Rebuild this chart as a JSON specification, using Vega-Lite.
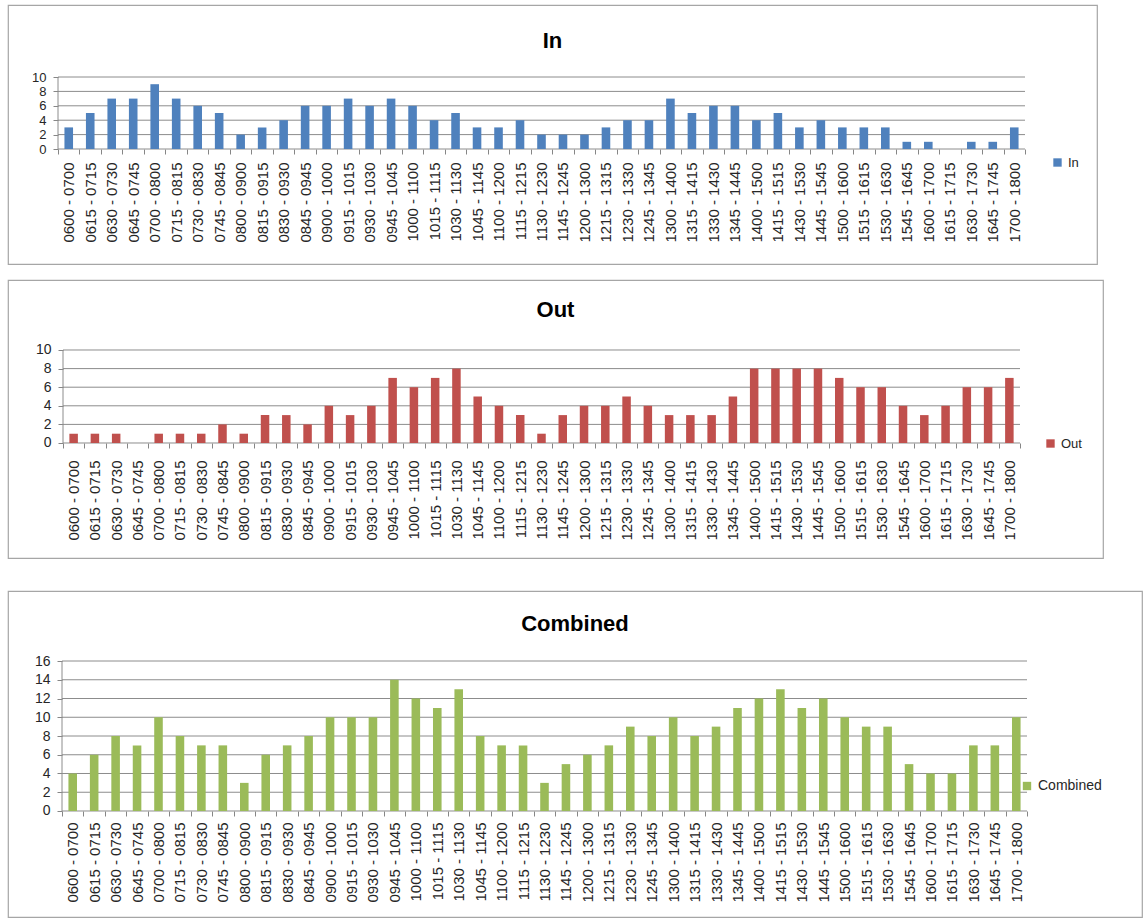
{
  "$schema": "https://vega.github.io/schema/vega-lite/v6.json",
  "background": "white",
  "padding": {"left": 0, "top": 4, "right": 0, "bottom": 3},
  "autosize": {"type": "pad"},
  "config": {
    "font": "Liberation Sans",
    "view": {"stroke": "#a6a6a6", "strokeWidth": 1.2},
    "axis": {"labelColor": "#262626", "tickColor": "#868686", "domain": false, "grid": false}
  },
  "datasets": {
    "slots": [
      {"slot":"0600 - 0700","In":3,"Out":1,"Combined":4},
      {"slot":"0615 - 0715","In":5,"Out":1,"Combined":6},
      {"slot":"0630 - 0730","In":7,"Out":1,"Combined":8},
      {"slot":"0645 - 0745","In":7,"Out":0,"Combined":7},
      {"slot":"0700 - 0800","In":9,"Out":1,"Combined":10},
      {"slot":"0715 - 0815","In":7,"Out":1,"Combined":8},
      {"slot":"0730 - 0830","In":6,"Out":1,"Combined":7},
      {"slot":"0745 - 0845","In":5,"Out":2,"Combined":7},
      {"slot":"0800 - 0900","In":2,"Out":1,"Combined":3},
      {"slot":"0815 - 0915","In":3,"Out":3,"Combined":6},
      {"slot":"0830 - 0930","In":4,"Out":3,"Combined":7},
      {"slot":"0845 - 0945","In":6,"Out":2,"Combined":8},
      {"slot":"0900 - 1000","In":6,"Out":4,"Combined":10},
      {"slot":"0915 - 1015","In":7,"Out":3,"Combined":10},
      {"slot":"0930 - 1030","In":6,"Out":4,"Combined":10},
      {"slot":"0945 - 1045","In":7,"Out":7,"Combined":14},
      {"slot":"1000 - 1100","In":6,"Out":6,"Combined":12},
      {"slot":"1015 - 1115","In":4,"Out":7,"Combined":11},
      {"slot":"1030 - 1130","In":5,"Out":8,"Combined":13},
      {"slot":"1045 - 1145","In":3,"Out":5,"Combined":8},
      {"slot":"1100 - 1200","In":3,"Out":4,"Combined":7},
      {"slot":"1115 - 1215","In":4,"Out":3,"Combined":7},
      {"slot":"1130 - 1230","In":2,"Out":1,"Combined":3},
      {"slot":"1145 - 1245","In":2,"Out":3,"Combined":5},
      {"slot":"1200 - 1300","In":2,"Out":4,"Combined":6},
      {"slot":"1215 - 1315","In":3,"Out":4,"Combined":7},
      {"slot":"1230 - 1330","In":4,"Out":5,"Combined":9},
      {"slot":"1245 - 1345","In":4,"Out":4,"Combined":8},
      {"slot":"1300 - 1400","In":7,"Out":3,"Combined":10},
      {"slot":"1315 - 1415","In":5,"Out":3,"Combined":8},
      {"slot":"1330 - 1430","In":6,"Out":3,"Combined":9},
      {"slot":"1345 - 1445","In":6,"Out":5,"Combined":11},
      {"slot":"1400 - 1500","In":4,"Out":8,"Combined":12},
      {"slot":"1415 - 1515","In":5,"Out":8,"Combined":13},
      {"slot":"1430 - 1530","In":3,"Out":8,"Combined":11},
      {"slot":"1445 - 1545","In":4,"Out":8,"Combined":12},
      {"slot":"1500 - 1600","In":3,"Out":7,"Combined":10},
      {"slot":"1515 - 1615","In":3,"Out":6,"Combined":9},
      {"slot":"1530 - 1630","In":3,"Out":6,"Combined":9},
      {"slot":"1545 - 1645","In":1,"Out":4,"Combined":5},
      {"slot":"1600 - 1700","In":1,"Out":3,"Combined":4},
      {"slot":"1615 - 1715","In":0,"Out":4,"Combined":4},
      {"slot":"1630 - 1730","In":1,"Out":6,"Combined":7},
      {"slot":"1645 - 1745","In":1,"Out":6,"Combined":7},
      {"slot":"1700 - 1800","In":3,"Out":7,"Combined":10}
    ],
    "grid10": [{"g":0},{"g":2},{"g":4},{"g":6},{"g":8},{"g":10}],
    "grid16": [{"g":0},{"g":2},{"g":4},{"g":6},{"g":8},{"g":10},{"g":12},{"g":14},{"g":16}],
    "one": [{"k":1}],
    "none": []
  },
  "spacing": 16,
  "bounds": "flush",
  "resolve": {"scale": {"color": "independent"}, "legend": {"color": "independent"}},
  "vconcat": [
    {
      "width": 1089,
      "height": 259,
      "title": {"text": "In", "fontSize": 22, "fontWeight": "bold", "anchor": "middle", "frame": "group", "offset": -58, "baseline": "middle", "color": "#000000"},
      "layer": [
        {
          "data": {"name": "grid10"},
          "mark": {"type": "rule", "color": "#8c8c8c", "strokeWidth": 1},
          "encoding": {
            "y": {"field": "g", "type": "quantitative", "scale": {"domain": [-15.972, 20], "nice": false, "zero": false}, "axis": {"title": null, "values": [0,2,4,6,8,10], "offset": -50, "tickSize": 5, "labelPadding": 7, "labelFontSize": 13}},
            "x": {"datum": "0600 - 0700", "type": "ordinal", "bandPosition": 0, "scale": {"type": "band", "range": [50, 1017], "paddingInner": 0, "paddingOuter": 0}, "axis": {"title": null, "offset": -115, "labelAngle": -90, "labelFontSize": 15, "labelPadding": 8, "tickSize": 5, "tickBand": "extent", "labelOverlap": false}},
            "x2": {"datum": "1700 - 1800", "bandPosition": 1}
          }
        },
        {
          "data": {"name": "one"},
          "mark": {"type": "rule", "color": "#8c8c8c", "strokeWidth": 1},
          "encoding": {
            "x": {"datum": "0600 - 0700", "type": "ordinal", "bandPosition": 0, "axis": {"title": null, "offset": -115, "labelAngle": -90, "labelFontSize": 15, "labelPadding": 8, "tickSize": 5, "tickBand": "extent", "labelOverlap": false}},
            "y": {"datum": 0, "type": "quantitative", "axis": {"title": null, "values": [0,2,4,6,8,10], "offset": -50, "tickSize": 5, "labelPadding": 7, "labelFontSize": 13}},
            "y2": {"datum": 10}
          }
        },
        {
          "data": {"name": "slots"},
          "mark": {"type": "bar", "color": "#4F81BD", "width": {"band": 0.4}},
          "encoding": {
            "x": {"field": "slot", "type": "ordinal", "axis": {"title": null, "offset": -115, "labelAngle": -90, "labelFontSize": 15, "labelPadding": 8, "tickSize": 5, "tickBand": "extent", "labelOverlap": false}},
            "y": {"field": "In", "type": "quantitative", "axis": {"title": null, "values": [0,2,4,6,8,10], "offset": -50, "tickSize": 5, "labelPadding": 7, "labelFontSize": 13}},
            "y2": {"datum": 0},
            "color": {"datum": "In", "scale": {"range": ["#4F81BD"]}, "legend": {"orient": "none", "legendX": 1043, "legendY": 151, "title": null, "symbolType": "square", "symbolSize": 70, "labelFontSize": 13, "labelColor": "#262626"}}
          }
        }
      ]
    },
    {
      "width": 1095,
      "height": 278,
      "title": {"text": "Out", "fontSize": 22, "fontWeight": "bold", "anchor": "middle", "frame": "group", "offset": -52, "baseline": "middle", "color": "#000000"},
      "layer": [
        {
          "data": {"name": "grid10"},
          "mark": {"type": "rule", "color": "#8c8c8c", "strokeWidth": 1},
          "encoding": {
            "y": {"field": "g", "type": "quantitative", "scale": {"domain": [-12.366, 17.527], "nice": false, "zero": false}, "axis": {"title": null, "values": [0,2,4,6,8,10], "offset": -55, "tickSize": 5, "labelPadding": 7, "labelFontSize": 14}},
            "x": {"datum": "0600 - 0700", "type": "ordinal", "bandPosition": 0, "scale": {"type": "band", "range": [55, 1012], "paddingInner": 0, "paddingOuter": 0}, "axis": {"title": null, "offset": -115, "labelAngle": -90, "labelFontSize": 15, "labelPadding": 12, "tickSize": 5, "tickBand": "extent", "labelOverlap": false}},
            "x2": {"datum": "1700 - 1800", "bandPosition": 1}
          }
        },
        {
          "data": {"name": "one"},
          "mark": {"type": "rule", "color": "#8c8c8c", "strokeWidth": 1},
          "encoding": {
            "x": {"datum": "0600 - 0700", "type": "ordinal", "bandPosition": 0, "axis": {"title": null, "offset": -115, "labelAngle": -90, "labelFontSize": 15, "labelPadding": 12, "tickSize": 5, "tickBand": "extent", "labelOverlap": false}},
            "y": {"datum": 0, "type": "quantitative", "axis": {"title": null, "values": [0,2,4,6,8,10], "offset": -55, "tickSize": 5, "labelPadding": 7, "labelFontSize": 14}},
            "y2": {"datum": 10}
          }
        },
        {
          "data": {"name": "slots"},
          "mark": {"type": "bar", "color": "#C0504D", "width": {"band": 0.4}},
          "encoding": {
            "x": {"field": "slot", "type": "ordinal", "axis": {"title": null, "offset": -115, "labelAngle": -90, "labelFontSize": 15, "labelPadding": 12, "tickSize": 5, "tickBand": "extent", "labelOverlap": false}},
            "y": {"field": "Out", "type": "quantitative", "axis": {"title": null, "values": [0,2,4,6,8,10], "offset": -55, "tickSize": 5, "labelPadding": 7, "labelFontSize": 14}},
            "y2": {"datum": 0},
            "color": {"datum": "Out", "scale": {"range": ["#C0504D"]}, "legend": {"orient": "none", "legendX": 1036, "legendY": 157, "title": null, "symbolType": "square", "symbolSize": 70, "labelFontSize": 13, "labelColor": "#262626"}}
          }
        }
      ]
    },
    {
      "width": 10,
      "height": 1,
      "data": {"name": "none"},
      "mark": {"type": "point", "opacity": 0},
      "view": {"stroke": null}
    },
    {
      "width": 1134,
      "height": 326,
      "title": {"text": "Combined", "fontSize": 22, "fontWeight": "bold", "anchor": "middle", "frame": "group", "offset": -55, "baseline": "middle", "color": "#000000"},
      "layer": [
        {
          "data": {"name": "grid16"},
          "mark": {"type": "rule", "color": "#8c8c8c", "strokeWidth": 1},
          "encoding": {
            "y": {"field": "g", "type": "quantitative", "scale": {"domain": [-11.307, 23.467], "nice": false, "zero": false}, "axis": {"title": null, "values": [0,2,4,6,8,10,12,14,16], "offset": -54, "tickSize": 5, "labelPadding": 7, "labelFontSize": 14}},
            "x": {"datum": "0600 - 0700", "type": "ordinal", "bandPosition": 0, "scale": {"type": "band", "range": [54, 1019], "paddingInner": 0, "paddingOuter": 0}, "axis": {"title": null, "offset": -106, "labelAngle": -90, "labelFontSize": 15, "labelPadding": 6, "tickSize": 5, "tickBand": "extent", "labelOverlap": false}},
            "x2": {"datum": "1700 - 1800", "bandPosition": 1}
          }
        },
        {
          "data": {"name": "one"},
          "mark": {"type": "rule", "color": "#8c8c8c", "strokeWidth": 1},
          "encoding": {
            "x": {"datum": "0600 - 0700", "type": "ordinal", "bandPosition": 0, "axis": {"title": null, "offset": -106, "labelAngle": -90, "labelFontSize": 15, "labelPadding": 6, "tickSize": 5, "tickBand": "extent", "labelOverlap": false}},
            "y": {"datum": 0, "type": "quantitative", "axis": {"title": null, "values": [0,2,4,6,8,10,12,14,16], "offset": -54, "tickSize": 5, "labelPadding": 7, "labelFontSize": 14}},
            "y2": {"datum": 16}
          }
        },
        {
          "data": {"name": "slots"},
          "mark": {"type": "bar", "color": "#9BBB59", "width": {"band": 0.4}},
          "encoding": {
            "x": {"field": "slot", "type": "ordinal", "axis": {"title": null, "offset": -106, "labelAngle": -90, "labelFontSize": 15, "labelPadding": 6, "tickSize": 5, "tickBand": "extent", "labelOverlap": false}},
            "y": {"field": "Combined", "type": "quantitative", "axis": {"title": null, "values": [0,2,4,6,8,10,12,14,16], "offset": -54, "tickSize": 5, "labelPadding": 7, "labelFontSize": 14}},
            "y2": {"datum": 0},
            "color": {"datum": "Combined", "scale": {"range": ["#9BBB59"]}, "legend": {"orient": "none", "legendX": 1012, "legendY": 188, "title": null, "symbolType": "square", "symbolSize": 70, "labelFontSize": 14, "labelColor": "#262626"}}
          }
        }
      ]
    }
  ]
}
